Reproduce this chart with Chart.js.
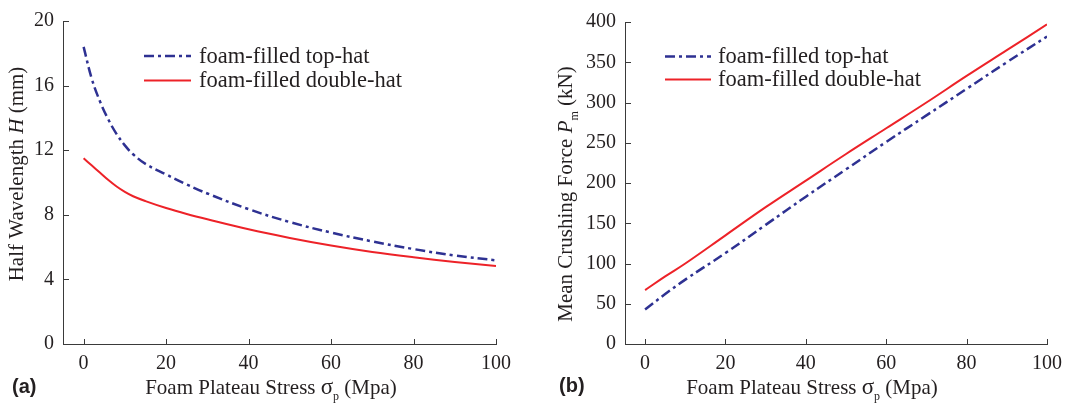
<!DOCTYPE html>
<html>
<head>
<meta charset="utf-8">
<script src="https://cdn.jsdelivr.net/npm/chart.js@4.4.1/dist/chart.umd.min.js"></script>
<style>
  html, body { margin: 0; padding: 0; background: #fff; }
  .panel { position: absolute; top: 0; width: 535px; height: 407px; }
  #wrapA { left: 0; }
  #wrapB { left: 535px; }
</style>
</head>
<body>
<div class="panel" id="wrapA"><canvas id="halfWave" width="535" height="407"></canvas></div>
<div class="panel" id="wrapB"><canvas id="crushForce" width="535" height="407"></canvas></div>
<script>
// foam plateau stress (MPa) sampled for the half wavelength curves
var stressH = [0, 2, 4, 6, 8, 10, 12, 15, 20, 25, 30, 40, 50, 60, 70, 80, 90, 100];
var topHatH = [18.4, 16.4, 15.0, 13.9, 13.0, 12.3, 11.75, 11.15, 10.5, 9.88, 9.32, 8.35, 7.55, 6.9, 6.35, 5.88, 5.48, 5.18];
var doubleHatH = [11.5, 11.05, 10.6, 10.15, 9.75, 9.42, 9.15, 8.85, 8.42, 8.05, 7.72, 7.1, 6.57, 6.1, 5.7, 5.37, 5.08, 4.83];

// mean crushing force (kN)
var stressP = [0, 5, 10, 20, 30, 40, 50, 60, 70, 80, 90, 100];
var topHatP = [43, 62, 80, 113, 148, 183, 217, 251, 284, 317, 350, 382];
var doubleHatP = [67, 84, 100, 135, 170, 203, 236, 268, 300, 333, 365, 397];

var xTickVals = [0, 20, 40, 60, 80, 100];
var hTickVals = [0, 4, 8, 12, 16, 20];
var pTickVals = [0, 50, 100, 150, 200, 250, 300, 350, 400];

var seriesNames = ['foam-filled top-hat', 'foam-filled double-hat'];

var BLUE = '#2e3192';
var RED = '#ed2228';
var INK = '#231f20';
var SERIF = '"Liberation Serif", "Times New Roman", serif';

function pts(xs, ys) {
	return xs.map(function (x, i) { return {x: x, y: ys[i]}; });
}

function drawRuns(ctx, runs, cx, baseY) {
	var total = 0;
	runs.forEach(function (r) {
		ctx.font = (r.italic ? 'italic ' : '') + (r.size || 21) + 'px ' + SERIF;
		r.w = ctx.measureText(r.t).width;
		total += r.w;
	});
	var x = cx - total / 2;
	runs.forEach(function (r) {
		ctx.font = (r.italic ? 'italic ' : '') + (r.size || 21) + 'px ' + SERIF;
		ctx.fillText(r.t, x, baseY + (r.dy || 0));
		x += r.w;
	});
}

// inside ticks, rich axis titles, legend and panel letter
function decor(cfg) {
	return {
		id: 'decor',
		afterDraw: function (chart) {
			var ctx = chart.ctx;
			var area = chart.chartArea;
			var xs = chart.scales.x, ys = chart.scales.y;
			ctx.save();
			ctx.strokeStyle = '#3a3a3a';
			ctx.lineWidth = 1;
			ctx.beginPath();
			xs.ticks.forEach(function (t) {
				var px = Math.round(xs.getPixelForValue(t.value)) + 0.5;
				ctx.moveTo(px, area.bottom);
				ctx.lineTo(px, area.bottom - 5);
			});
			ys.ticks.forEach(function (t) {
				var py = Math.round(ys.getPixelForValue(t.value)) + 0.5;
				ctx.moveTo(area.left, py);
				ctx.lineTo(area.left + 6, py);
			});
			ctx.stroke();

			ctx.fillStyle = INK;
			ctx.textBaseline = 'alphabetic';
			ctx.textAlign = 'left';
			drawRuns(ctx, cfg.xTitle, cfg.xTitlePos[0], cfg.xTitlePos[1]);

			ctx.save();
			ctx.translate(cfg.yTitlePos[0], cfg.yTitlePos[1]);
			ctx.rotate(-Math.PI / 2);
			drawRuns(ctx, cfg.yTitle, 0, 0);
			ctx.restore();

			// legend
			chart.data.datasets.forEach(function (ds, i) {
				var ly = cfg.legendY[i];
				ctx.save();
				ctx.strokeStyle = ds.borderColor;
				ctx.lineWidth = ds.borderWidth;
				ctx.setLineDash(ds.borderDash || []);
				ctx.beginPath();
				ctx.moveTo(cfg.legendX[0], ly);
				ctx.lineTo(cfg.legendX[1], ly);
				ctx.stroke();
				ctx.restore();
				ctx.fillStyle = INK;
				ctx.font = '22.5px ' + SERIF;
				ctx.textBaseline = 'middle';
				ctx.fillText(ds.label, cfg.legendX[2], ly + 1);
			});

			ctx.font = 'bold 20px "Liberation Sans", Arial, sans-serif';
			ctx.textBaseline = 'middle';
			ctx.fillText(cfg.letter, cfg.letterPos[0], cfg.letterPos[1]);
			ctx.restore();
		}
	};
}

function makeChart(canvasId, xs, top, dbl, yMin, yMax, yTickVals, pad, yAxisW, cfg) {
	var tickFont = {family: SERIF, size: 20};
	return new Chart(document.getElementById(canvasId), {
		type: 'line',
		data: {
			datasets: [{
				label: seriesNames[0],
				data: pts(xs, top),
				borderColor: BLUE,
				borderWidth: 2.5,
				borderDash: [10, 4, 3, 4],
				pointRadius: 0,
				fill: false,
				tension: 0.4
			}, {
				label: seriesNames[1],
				data: pts(xs, dbl),
				borderColor: RED,
				borderWidth: 2,
				pointRadius: 0,
				fill: false,
				tension: 0.4
			}]
		},
		options: {
			responsive: false,
			animation: false,
			devicePixelRatio: 1,
			layout: {padding: pad},
			plugins: {legend: {display: false}, tooltip: {enabled: false}},
			scales: {
				x: {
					type: 'linear',
					min: -5,
					max: 100,
					grid: {display: false, drawTicks: false},
					border: {display: true, color: '#3a3a3a', width: 1},
					ticks: {font: tickFont, color: INK, padding: 8, maxRotation: 0},
					afterBuildTicks: function (s) { s.ticks = xTickVals.map(function (v) { return {value: v}; }); },
					afterFit: function (s) { s.height = 63; }
				},
				y: {
					type: 'linear',
					min: yMin,
					max: yMax,
					grid: {display: false, drawTicks: false},
					border: {display: true, color: '#3a3a3a', width: 1},
					ticks: {font: tickFont, color: INK, padding: 9},
					afterBuildTicks: function (s) { s.ticks = yTickVals.map(function (v) { return {value: v}; }); },
					afterFit: function (s) { s.width = yAxisW; }
				}
			}
		},
		plugins: [decor(cfg)]
	});
}

makeChart('halfWave', stressH, topHatH, doubleHatH, 0, 20, hTickVals,
	{left: 0, top: 20, right: 39, bottom: 0}, 63, {
		xTitle: [{t: 'Foam Plateau Stress '}, {t: 'σ', size: 23}, {t: 'p', size: 12, dy: 6}, {t: ' (Mpa)'}],
		xTitlePos: [271, 394],
		yTitle: [{t: 'Half Wavelength '}, {t: 'H', italic: true}, {t: ' (mm)'}],
		yTitlePos: [23, 174],
		legendX: [144, 191, 199],
		legendY: [56, 80.5],
		letter: '(a)',
		letterPos: [12, 387]
	});

makeChart('crushForce', stressP, topHatP, doubleHatP, 0, 400, pTickVals,
	{left: 0, top: 22, right: 22, bottom: 0}, 90, {
		xTitle: [{t: 'Foam Plateau Stress '}, {t: 'σ', size: 23}, {t: 'p', size: 12, dy: 6}, {t: ' (Mpa)'}],
		xTitlePos: [277, 394],
		yTitle: [{t: 'Mean Crushing Force '}, {t: 'P', italic: true}, {t: 'm', size: 12, dy: 6}, {t: ' (kN)'}],
		yTitlePos: [37, 194],
		legendX: [130, 176, 183],
		legendY: [56.5, 79.5],
		letter: '(b)',
		letterPos: [24, 386]
	});
</script>
</body>
</html>
